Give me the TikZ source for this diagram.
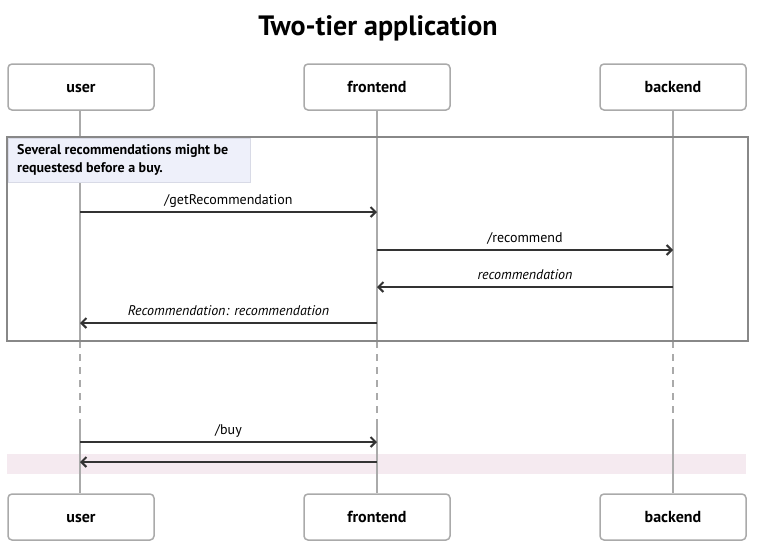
\documentclass[tikz,border=0pt]{standalone}
\usepackage{fontspec}
\setmainfont{PT Sans}
\usetikzlibrary{arrows.meta}
\definecolor{boxline}{HTML}{AAAAAA}
\definecolor{loopline}{HTML}{888888}
\definecolor{msgline}{HTML}{333333}
\definecolor{notefill}{HTML}{EEF0FA}
\definecolor{noteline}{HTML}{D8DAE6}
\definecolor{band}{HTML}{F5EAF0}
\tikzset{
  actor/.style={draw=boxline, line width=1.5pt, rounded corners=4pt, fill=white,
    minimum width=146pt, minimum height=46pt, inner sep=0pt,
    text height=12pt, text depth=2pt,
    font=\fontsize{16}{18}\selectfont\bfseries},
  life/.style={draw=boxline, line width=1.5pt},
  lifedash/.style={draw=boxline, line width=1.5pt, dash pattern=on 7pt off 6pt},
  msg/.style={draw=msgline, line width=2pt, -{Straight Barb[length=5pt,width=10pt,line width=2pt]}},
  lbl/.style={font=\fontsize{14}{16}\selectfont, inner sep=0pt, text=black,
    text height=10pt, text depth=3pt},
  ilbl/.style={lbl, font=\fontsize{14}{16}\selectfont\itshape},
}
\begin{document}
\begin{tikzpicture}[x=1pt,y=-1pt]
\useasboundingbox (0,0) rectangle (759,550);
% title
\node[font=\fontsize{28}{30}\selectfont\bfseries, text height=20pt, text depth=6pt] (title) at (378,28) {Two-tier application};
% pink band behind the reply
\fill[band] (7,454) rectangle (746,474);
% top participants
\node[actor] (u) at (81,87) {user};
\node[actor] (f) at (377,87) {frontend};
\node[actor] (b) at (673,87) {backend};
% bottom participants
\node[actor] (u2) at (81,517) {user};
\node[actor] (f2) at (377,517) {frontend};
\node[actor] (b2) at (673,517) {backend};
% lifeline coordinates
\foreach \n/\x in {u/80,f/377,b/673}{
  \coordinate (\n d1) at (\x,341);
  \coordinate (\n d2) at (\x,420);
}
\draw[life] (u.south -| ud1) -- (ud1);
\draw[life] (f.south) -- (fd1);
\draw[life] (b.south) -- (bd1);
\draw[lifedash] (ud1) -- (ud2);
\draw[lifedash] (fd1) -- (fd2);
\draw[lifedash] (bd1) -- (bd2);
\draw[life] (ud2) -- (u2.north -| ud2);
\draw[life] (fd2) -- (f2.north);
\draw[life] (bd2) -- (b2.north);
% loop frame
\node[draw=loopline, line width=2pt, minimum width=741pt, minimum height=204pt, inner sep=0pt] (loop) at (377.5,239) {};
% note
\node[draw=noteline, fill=notefill, line width=1pt, minimum width=242pt, minimum height=44pt,
  inner sep=0pt] (note) at (129,160) {};
\node[anchor=north west, align=left, inner sep=0pt, font=\fontsize{14}{18}\selectfont\bfseries]
  (notetext) at (17,144) {Several recommendations might be\\requestesd before a buy.};
% message coordinates
\coordinate (m1a) at (80,212);  \coordinate (m1b) at (377,212);
\coordinate (m2a) at (377,250); \coordinate (m2b) at (673,250);
\coordinate (m3a) at (673,287); \coordinate (m3b) at (377,287);
\coordinate (m4a) at (377,323); \coordinate (m4b) at (80,323);
\coordinate (m5a) at (80,442);  \coordinate (m5b) at (377,442);
\coordinate (m6a) at (377,462); \coordinate (m6b) at (80,462);
% messages
\draw[msg] (m1a) -- (m1b) node[lbl, midway, above=4pt] (l1) {/getRecommendation};
\draw[msg] (m2a) -- (m2b) node[lbl, midway, above=4pt] (l2) {/recommend};
\draw[msg] (m3a) -- (m3b) node[ilbl, midway, above=4pt] (l3) {recommendation};
\draw[msg] (m4a) -- (m4b) node[ilbl, midway, above=4pt] (l4) {Recommendation: recommendation};
\draw[msg] (m5a) -- (m5b) node[lbl, midway, above=4pt] (l5) {/buy};
\draw[msg] (m6a) -- (m6b);
\end{tikzpicture}
\end{document}
